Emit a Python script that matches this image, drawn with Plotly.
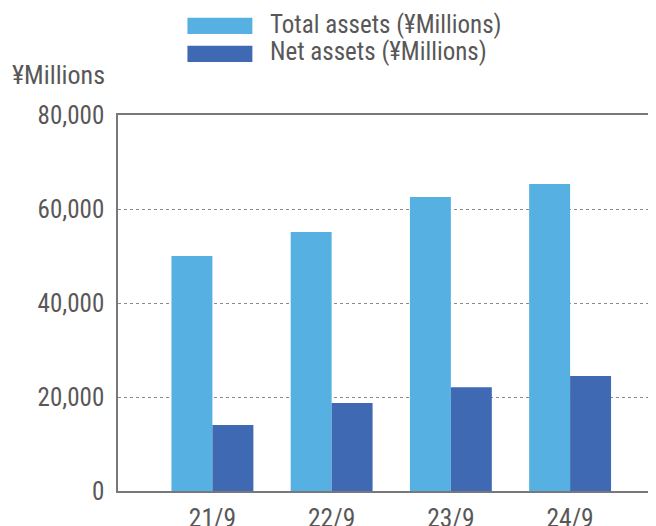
import plotly.graph_objects as go

categories = ["21/9", "22/9", "23/9", "24/9"]
total_assets = [50000, 55100, 62550, 65300]
net_assets = [14050, 18700, 22100, 24450]
y_ticks = [0, 20000, 40000, 60000, 80000]
y_tick_labels = ["0", "20,000", "40,000", "60,000", "80,000"]
series_names = ["Total assets (¥Millions)", "Net assets (¥Millions)"]
unit_label = "¥Millions"

C_TOTAL = "#56B0E2"
C_NET = "#3F69B2"
TXT = "#595757"
FONT = "Roboto Condensed, Roboto, sans-serif"

# page body has an 8px margin; plot area spans screen x 117.5..668 (runs off the right edge), y 115..491
FIG_W, FIG_H = 660, 518
PL, PT, PH = 117.5, 115.0, 376.0
PW = FIG_W + 8 - PL


def px(x):
    return (x - PL) / PW


def py(y):
    return (PT + PH - y) / PH


# category centres sit at screen x 212 .. 570 (step ~119.35 px)
step = (570 - 212) / 3
x_range = [-(212 - PL) / step, 3 + (PL + PW - 570) / step]

fig = go.Figure()
fig.add_trace(go.Bar(x=categories, y=total_assets, name=series_names[0],
                     marker=dict(color=C_TOTAL, line=dict(width=0))))
fig.add_trace(go.Bar(x=categories, y=net_assets, name=series_names[1],
                     marker=dict(color=C_NET, line=dict(width=0))))

fig.update_layout(
    width=FIG_W, height=FIG_H,
    margin=dict(l=PL - 8, r=0, t=PT - 8, b=FIG_H - (PT - 8) - PH),
    paper_bgcolor="white", plot_bgcolor="white",
    barmode="group", bargap=0.313, bargroupgap=0,
    showlegend=False,
    font=dict(family=FONT, color=TXT, size=22),
)
fig.update_xaxes(
    type="category", range=x_range, automargin=False,
    showline=True, linecolor="#77787B", linewidth=1.5, mirror=True,
    showgrid=False, ticks="", ticklabelstandoff=4,
    tickfont=dict(size=25.5, color=TXT, family=FONT),
)
fig.update_yaxes(
    range=[0, 80000], tickvals=y_ticks, ticktext=y_tick_labels, automargin=False,
    showline=True, linecolor="#77787B", linewidth=1.5,
    showgrid=True, gridcolor="#8A8A8A", gridwidth=1.2, griddash="3px,3px",
    zeroline=False, ticks="", ticklabelstandoff=7,
    tickfont=dict(size=25, color=TXT, family=FONT),
)

# custom legend swatches and labels
swatch_tops = [17.7, 45.7]
text_mid = [24.5, 52.0]
for name, col, top, mid in zip(series_names, [C_TOTAL, C_NET], swatch_tops, text_mid):
    fig.add_shape(type="rect", xref="paper", yref="paper",
                  x0=px(187), x1=px(252), y0=py(top), y1=py(top + 16.3),
                  fillcolor=col, line=dict(width=0))
    fig.add_annotation(text=name, xref="paper", yref="paper",
                       x=px(268), y=py(mid),
                       xanchor="left", yanchor="middle", showarrow=False,
                       font=dict(size=25, color=TXT, family=FONT))

fig.add_annotation(text=unit_label, xref="paper", yref="paper",
                   x=px(9), y=py(75),
                   xanchor="left", yanchor="middle", showarrow=False,
                   font=dict(size=26, color=TXT, family=FONT))

fig.write_html("out.html", post_script="document.body.style.overflow='hidden';")
